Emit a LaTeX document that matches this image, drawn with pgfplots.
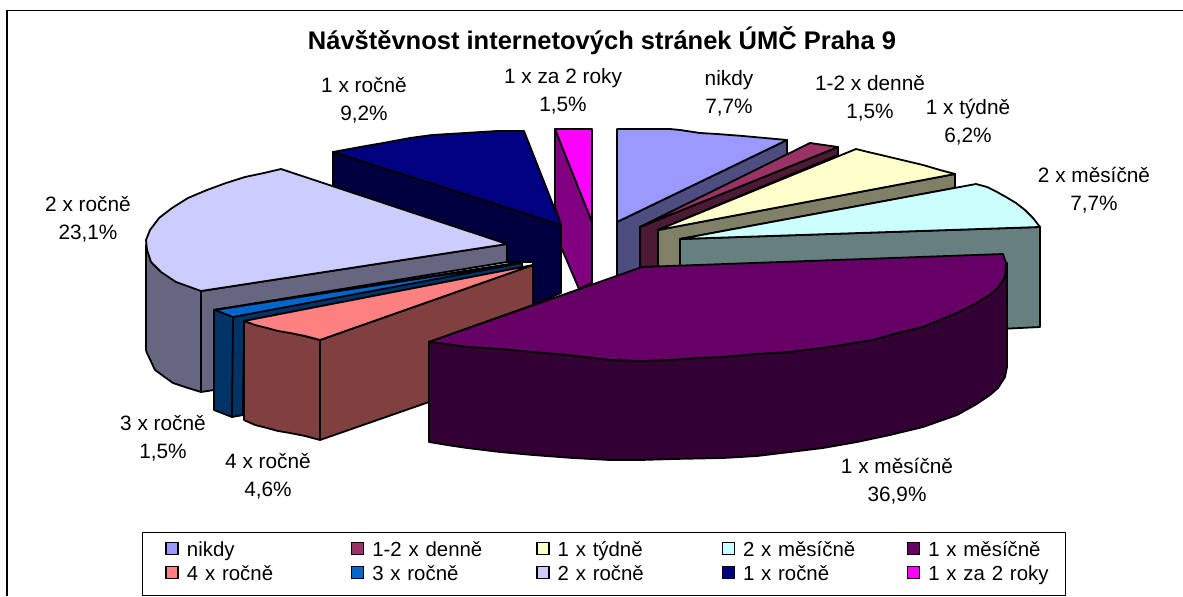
\documentclass[border=0pt]{standalone}
\usepackage{pgfplots}
\pgfplotsset{compat=1.18}
\usepackage{fontspec}
\setmainfont{Liberation Sans}
\definecolor{nikdy}{HTML}{9999FF}\definecolor{nikdyS}{HTML}{4D4D80}
\definecolor{denne}{HTML}{993366}\definecolor{denneS}{HTML}{4D1A33}
\definecolor{tydne}{HTML}{FFFFCC}\definecolor{tydneS}{HTML}{808066}
\definecolor{dvames}{HTML}{CCFFFF}\definecolor{dvamesS}{HTML}{668080}
\definecolor{jedenmes}{HTML}{660066}\definecolor{jedenmesS}{HTML}{330033}
\definecolor{ctyrirok}{HTML}{FF8080}\definecolor{ctyrirokS}{HTML}{804040}
\definecolor{trirok}{HTML}{0066CC}\definecolor{trirokS}{HTML}{003366}
\definecolor{dvarok}{HTML}{CCCCFF}\definecolor{dvarokS}{HTML}{666680}
\definecolor{jedenrok}{HTML}{000080}\definecolor{jedenrokS}{HTML}{000040}
\definecolor{zadva}{HTML}{FF00FF}\definecolor{zadvaS}{HTML}{800080}
\newcommand{\lab}{\fontsize{20.8}{28}\selectfont}
\newcommand{\lgd}[1]{\raisebox{4pt}{#1}}
\pgfplotsset{slice/.style={draw=black,line width=1.8pt,line join=round,forget plot}}
\begin{document}
\begin{tikzpicture}
\begin{axis}[scale only axis,width=1183pt,height=596pt,xmin=0,xmax=1183,ymin=0,ymax=596,y dir=reverse,hide axis,clip=true,
 legend columns=5,
 legend style={at={(axis cs:142,532)},anchor=north west,draw=black,line width=1.2pt,inner xsep=15pt,inner ysep=8.5pt,
   row sep=2pt,
   nodes={text width=122pt,align=left,inner sep=0pt,minimum height=22pt,anchor=west,font=\fontsize{20.4}{22}\selectfont},
   /tikz/every odd column/.append style={column sep=8pt},
   /tikz/every even column/.append style={column sep=34pt}},
 legend image code/.code={\fill[white] (0pt,3pt) rectangle (7pt,4pt);\draw[#1,line width=1.5pt] (8pt,-2.5pt) rectangle (20pt,9.5pt);},
]
\addlegendimage{fill=nikdy,draw=black}\addlegendentry{\lgd{nikdy}}
\addlegendimage{fill=denne,draw=black}\addlegendentry{\lgd{1-2 x denně}}
\addlegendimage{fill=tydne,draw=black}\addlegendentry{\lgd{1 x týdně}}
\addlegendimage{fill=dvames,draw=black}\addlegendentry{\lgd{2 x měsíčně}}
\addlegendimage{fill=jedenmes,draw=black}\addlegendentry{\lgd{1 x měsíčně}}
\addlegendimage{fill=ctyrirok,draw=black}\addlegendentry{\lgd{4 x ročně}}
\addlegendimage{fill=trirok,draw=black}\addlegendentry{\lgd{3 x ročně}}
\addlegendimage{fill=dvarok,draw=black}\addlegendentry{\lgd{2 x ročně}}
\addlegendimage{fill=jedenrok,draw=black}\addlegendentry{\lgd{1 x ročně}}
\addlegendimage{fill=zadva,draw=black}\addlegendentry{\lgd{1 x za 2 roky}}
% page extent
\addplot[draw=none,forget plot] coordinates {(0,0)(1183,596)};
% frame: open on the right and at the bottom
\addplot[draw=black,line width=1.2pt,forget plot,overlay] coordinates {(7,596)(7,10.5)(1183,10.5)};
% 1 x za 2 roky
\addplot[slice,fill=zadvaS] coordinates {(555,129)(592,222)(592,283)(579,289)(561,247)(561,225)(555,207)} --cycle;
\addplot[slice,fill=zadva] coordinates {(555,129)(592,129)(592,222)} --cycle;
% 1 x rocne
\addplot[slice,fill=jedenrokS] coordinates {(333,152)(561,225)(561,293)(533,305)(533,262)(507,262)(507,244)(333,186)} --cycle;
\addplot[slice,fill=jedenrok] coordinates {(333,152)(360,147)(383,143)(410,138)(432,135)(465,133)(497,131)(524,131)(561,225)} --cycle;
% 2 x rocne
\addplot[slice,fill=dvarokS] coordinates {(146,245)(146,350)(147,353)(155,370)(173,383)(188,388)(201,392)(214,390)(214,310)(507,262)(507,244)(201,291)} --cycle;
\addplot[slice] coordinates {(201,291)(201,392)};
\addplot[slice,fill=dvarok] coordinates {(507,244)(281,169)(264,173)(245,177)(226,183)(207,190)(188,198)(172,208)(159,218)(150,230)(146,240)(147,250)(151,262)(161,272)(176,282)(201,291)} --cycle;
% 3 x rocne
\addplot[slice,fill=trirokS] coordinates {(214,310)(522,262)(522,268)(244,321)(243,415)(232,417)(214,410)} --cycle;
\addplot[slice] coordinates {(233,317)(232,417)};
\addplot[slice,fill=trirok] coordinates {(215,310)(522,263)(233,317)} --cycle;
% 4 x rocne
\addplot[slice,fill=ctyrirokS] coordinates {(244,321)(244,420)(255,425)(267,428)(278,431)(290,433)(305,436)(320,440)(429,402)(429,342)(533,305)(533,265)(320,340)} --cycle;
\addplot[slice] coordinates {(320,340)(320,440)};
\addplot[slice,fill=ctyrirok] coordinates {(244,321)(533,265)(320,340)(305,336)(290,333)(278,331)(267,328)(255,325)} --cycle;
% nikdy
\addplot[slice,fill=nikdyS] coordinates {(787,140)(787,155)(640,227)(640,275)(617,275)(617,222)} --cycle;
\addplot[slice,fill=nikdy] coordinates {(617,129)(670,129)(680,130)(700,133)(717,134)(743,136)(765,138)(787,140)(617,222)} --cycle;
% denne
\addplot[slice,fill=denneS] coordinates {(838,147)(838,155)(658,230)(658,270)(640,270)(640,227)} --cycle;
\addplot[slice,fill=denne] coordinates {(810,143)(838,147)(640,227)} --cycle;
% tydne
\addplot[slice,fill=tydneS] coordinates {(955,174)(955,188)(680,239)(680,270)(658,270)(658,230)} --cycle;
\addplot[slice,fill=tydne] coordinates {(856,149)(868,152)(881,155)(902,160)(923,165)(940,170)(955,174)(658,230)} --cycle;
% 2 x mesicne
\addplot[slice,fill=dvamesS] coordinates {(680,239)(1040,227)(1040,327)(1000,329)(680,300)} --cycle;
\addplot[slice,fill=dvames] coordinates {(976,184)(987,187)(997,192)(1006,197)(1016,203)(1025,210)(1033,218)(1040,227)(680,239)} --cycle;
% 1 x mesicne
\addplot[slice,fill=jedenmesS] coordinates {(429,342)(429,442)(447,445)(467,448)(500,452)(533,455)(573,458)(610,460)(640,460)(673,459)(698,458.5)(723,458)(757,456)(790,452)(823,448)(857,442)(890,435)(923,427)(940,421)(957,415)(975,405)(990,395)(998,388)(1005,377)(1007,367)(1007,263)} --cycle;
\addplot[slice,fill=jedenmes] coordinates {(642,267)(1003,254)(1006,263)(1005,277)(998,288)(990,295)(973,305)(957,313)(940,320)(923,327)(898,333)(873,340)(848,344)(823,348)(790,352)(757,354)(723,357)(698,358)(673,360)(640,361)(610,360)(567,355)(533,352)(500,349)(467,347)(447,344)(429,342)} --cycle;
% labels
\node[font=\bfseries\fontsize{25.5}{27}\selectfont] at (axis cs:602,41) {Návštěvnost internetových stránek ÚMČ Praha 9};
\node[align=center,font=\lab] at (axis cs:364,100) {1 x ročně\\9,2\%};
\node[align=center,font=\lab] at (axis cs:563,91) {1 x za 2 roky\\1,5\%};
\node[align=center,font=\lab] at (axis cs:729,93) {nikdy\\7,7\%};
\node[align=center,font=\lab] at (axis cs:870,98) {1-2 x denně\\1,5\%};
\node[align=center,font=\lab] at (axis cs:968,122) {1 x týdně\\6,2\%};
\node[align=center,font=\lab] at (axis cs:1094,190) {2 x měsíčně\\7,7\%};
\node[align=center,font=\lab] at (axis cs:88,219) {2 x ročně\\23,1\%};
\node[align=center,font=\lab] at (axis cs:163,438) {3 x ročně\\1,5\%};
\node[align=center,font=\lab] at (axis cs:268,476) {4 x ročně\\4,6\%};
\node[align=center,font=\lab] at (axis cs:897,481) {1 x měsíčně\\36,9\%};
\end{axis}
\end{tikzpicture}
\end{document}
